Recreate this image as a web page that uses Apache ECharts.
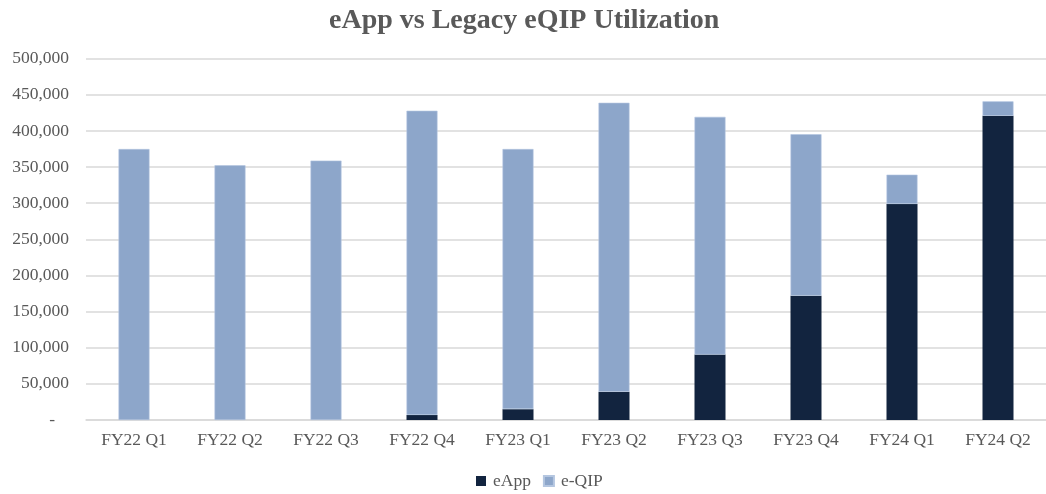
<!DOCTYPE html>
<html><head><meta charset="utf-8">
<script src="https://cdn.jsdelivr.net/npm/echarts@6/dist/echarts.min.js"></script>
<style>html,body{margin:0;padding:0;background:#fff}#c{width:1046px;height:494px}</style>
</head><body><div id="c"></div>
<script>
const categories = ['FY22 Q1','FY22 Q2','FY22 Q3','FY22 Q4','FY23 Q1','FY23 Q2','FY23 Q3','FY23 Q4','FY24 Q1','FY24 Q2'];
const eApp = [0, 0, 0, 7000, 15000, 39000, 90500, 172000, 299000, 421000];
const eQIP = [375000, 352500, 359000, 421000, 360000, 400000, 329000, 223500, 40500, 20000];
const seriesNames = ['eApp', 'e-QIP'];

const font = 'Liberation Serif';
const grey = '#595959';
const chart = echarts.init(document.getElementById('c'));
chart.setOption({
  animation: false,
  title: {
    text: 'eApp vs Legacy eQIP Utilization',
    left: 324, top: 2,
    textStyle: {fontFamily: font, fontSize: 28, fontWeight: 'bold', color: grey}
  },
  legend: {
    bottom: -1, left: 471,
    itemWidth: 10, itemHeight: 10, itemGap: 12,
    icon: 'rect',
    textStyle: {fontFamily: font, fontSize: 17.5, color: grey, padding: [0,0,0,2]},
    data: seriesNames
  },
  grid: {left: 86, right: -11, top: 58.7, bottom: 74, containLabel: false},
  xAxis: {
    type: 'category', data: categories,
    axisLine: {lineStyle: {color: '#D9D9D9', width: 1.5}},
    axisTick: {show: false},
    axisLabel: {fontFamily: font, fontSize: 17.5, color: grey, margin: 11}
  },
  yAxis: {
    type: 'value', min: 0, max: 500000, interval: 50000,
    axisLine: {show: false}, axisTick: {show: false},
    splitLine: {lineStyle: {color: '#D9D9D9', width: 1.5}},
    axisLabel: {
      fontFamily: font, fontSize: 17.5, color: grey, margin: 17,
      formatter: v => v === 0 ? '{d|-}' : v.toLocaleString('en-US'),
      rich: {d: {fontFamily: font, fontSize: 17.5, color: grey, padding: [0, 14, 0, 0]}}
    }
  },
  series: [
    {name: seriesNames[0], type: 'bar', stack: 't', data: eApp, barWidth: 31,
     itemStyle: {color: '#12243F'}},
    {name: seriesNames[1], type: 'bar', stack: 't', data: eQIP, barWidth: 31,
     itemStyle: {color: '#8DA6CA', borderColor: '#B4C6E0', borderWidth: 0.6}}
  ]
});
</script></body></html>
